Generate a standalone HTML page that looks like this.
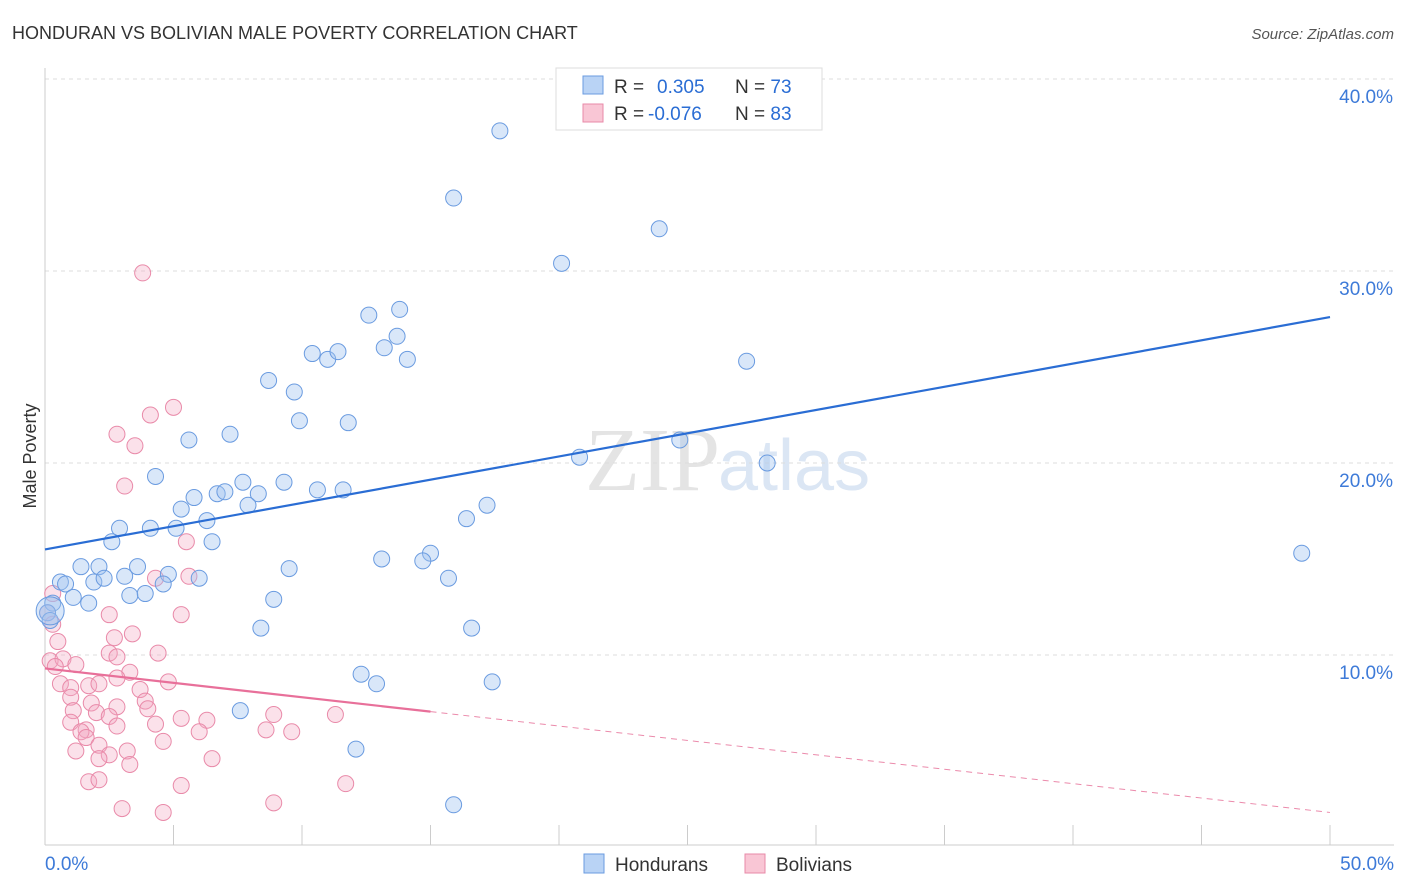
<!DOCTYPE html>
<html><head><meta charset="utf-8"><style>
body{margin:0;background:#fff;font-family:"Liberation Sans",sans-serif;}
svg{display:block}
</style></head><body>
<svg id="c" width="1406" height="892">
<text x="12" y="39" font-size="18" fill="#333">HONDURAN VS BOLIVIAN MALE POVERTY CORRELATION CHART</text>
<text x="1394" y="39" font-size="15" fill="#555" font-style="italic" text-anchor="end">Source: ZipAtlas.com</text>
<text x="36" y="456" font-size="18" fill="#333" transform="rotate(-90 36 456)" text-anchor="middle">Male Poverty</text>
<text x="720" y="490" font-size="90" fill="#e4e4e4" text-anchor="end" font-family="Liberation Serif">ZIP</text>
<text x="718" y="490" font-size="72" fill="#dbe6f4">atlas</text>
<g id="grid"></g><g id="pts"></g><g id="lines"></g>
<g>
<rect x="556" y="68" width="266" height="62" fill="#fff" stroke="#ddd"/>
<rect x="583" y="76" width="20" height="18" fill="#b9d3f5" stroke="#6a9be0"/>
<rect x="583" y="104" width="20" height="18" fill="#f9c6d5" stroke="#e88aa8"/>
<text x="614" y="93" font-size="19" fill="#333">R = <tspan fill="#2a6dd4" x="657">0.305</tspan><tspan x="735" fill="#333">N = </tspan><tspan fill="#2a6dd4">73</tspan></text>
<text x="614" y="120" font-size="19" fill="#333">R = <tspan fill="#2a6dd4" x="648">-0.076</tspan><tspan x="735" fill="#333">N = </tspan><tspan fill="#2a6dd4">83</tspan></text>
</g>
<g>
<rect x="584" y="854" width="20" height="19" fill="#b9d3f5" stroke="#6a9be0"/>
<text x="615" y="871" font-size="19" fill="#333">Hondurans</text>
<rect x="745" y="854" width="20" height="19" fill="#f9c6d5" stroke="#e88aa8"/>
<text x="776" y="871" font-size="19" fill="#333">Bolivians</text>
</g>
</svg>
<script>
const yTicks=[10,20,30,40];
const xTickVals=[0,5,10,15,20,25,30,35,40,45,50];
const blueX=[17.7,15.9,23.9,20.1,12.6,13.8,13.7,13.2,10.4,11.0,11.4,14.1,27.3,8.7,9.7,9.9,11.8,5.6,7.2,24.7,20.8,28.1,4.3,7.7,9.3,6.7,7.0,8.3,5.8,7.9,10.6,11.6,5.3,6.3,2.9,4.1,5.1,16.4,17.2,2.6,6.5,48.9,13.1,15.0,14.7,1.4,2.1,3.6,9.5,3.1,4.8,6.0,15.7,0.6,0.8,1.9,2.3,4.6,1.1,3.3,3.9,8.9,1.7,0.3,0.1,0.2,8.4,16.6,12.3,12.9,17.4,7.6,12.1,15.9];
const blueY=[37.3,33.8,32.2,30.4,27.7,28.0,26.6,26.0,25.7,25.4,25.8,25.4,25.3,24.3,23.7,22.2,22.1,21.2,21.5,21.2,20.3,20.0,19.3,19.0,19.0,18.4,18.5,18.4,18.2,17.8,18.6,18.6,17.6,17.0,16.6,16.6,16.6,17.1,17.8,15.9,15.9,15.3,15.0,15.3,14.9,14.6,14.6,14.6,14.5,14.1,14.2,14.0,14.0,13.8,13.7,13.8,14.0,13.7,13.0,13.1,13.2,12.9,12.7,12.7,12.2,11.8,11.4,11.4,9.0,8.5,8.6,7.1,5.1,2.2];
const pinkX=[3.8,5.0,4.1,2.8,3.5,3.1,5.5,4.3,5.6,0.3,0.1,2.5,5.3,0.3,3.4,2.7,0.5,2.5,2.8,4.4,0.2,0.7,1.2,0.4,3.3,2.8,4.8,0.6,1.7,2.1,3.7,1.0,1.0,1.8,3.9,4.0,2.8,1.1,2.0,2.5,5.3,6.3,8.9,11.3,1.0,4.3,2.8,1.6,1.4,1.6,6.0,8.6,9.6,2.1,4.6,1.2,2.5,3.2,2.1,6.5,3.3,1.7,2.1,5.3,11.7,3.0,4.6,8.9];
const pinkY=[29.9,22.9,22.5,21.5,20.9,18.8,15.9,14.0,14.1,13.2,12.2,12.1,12.1,11.6,11.1,10.9,10.7,10.1,9.9,10.1,9.7,9.8,9.5,9.4,9.1,8.8,8.6,8.5,8.4,8.5,8.2,8.3,7.8,7.5,7.6,7.2,7.3,7.1,7.0,6.8,6.7,6.6,6.9,6.9,6.5,6.4,6.3,6.1,6.0,5.7,6.0,6.1,6.0,5.3,5.5,5.0,4.8,5.0,4.6,4.6,4.3,3.4,3.5,3.2,3.3,2.0,1.8,2.3];
const trendBlue=[15.5,27.6];
const trendPink=[9.3,1.8];
const X=v=>45+v*25.7, Y=v=>847-v*19.2;
const NS='http://www.w3.org/2000/svg';
function mk(t,a,p){const e=document.createElementNS(NS,t);for(const k in a)e.setAttribute(k,a[k]);p.appendChild(e);return e;}
const g=document.getElementById('grid');
yTicks.forEach(v=>{
 const l=mk('line',{x1:45,x2:1394,y1:Y(v),y2:Y(v),stroke:'#ddd','stroke-dasharray':'4,4'},g);
 
 
 const t=mk('text',{x:1393,y:Y(v)+24,'font-size':19,fill:'#3d7ad8','text-anchor':'end'},g);
 t.textContent=v.toFixed(1)+'%';
 
 
});
mk('line',{x1:45,x2:45,y1:68,y2:845,stroke:'#ccc'},g);
mk('line',{x1:45,x2:1394,y1:845,y2:845,stroke:'#ccc'},g);
xTickVals.forEach(v=>{
 const l=mk('line',{x1:X(v),x2:X(v),y1:825,y2:845,stroke:'#ccc'},g);
 
 
});
[[0,'0.0%',45,'start'],[50,'50.0%',1394,'end']].forEach(a=>{
 const t=mk('text',{x:a[2],y:870,'font-size':19,fill:'#3d7ad8','text-anchor':a[3]},g);
 t.textContent=a[1];
 
 
});
const p=document.getElementById('pts');
pinkX.forEach((x,i)=>{
 const c=mk('circle',{cx:X(x),cy:Y(pinkY[i]),r:8,fill:'rgba(244,170,195,0.35)',stroke:'#e98aa9','stroke-width':1},p);
 
 
});
blueX.forEach((x,i)=>{
 const c=mk('circle',{cx:X(x),cy:Y(blueY[i]),r:8,fill:'rgba(160,195,240,0.4)',stroke:'#6a9be0','stroke-width':1},p);
 
 
});
const big=mk('circle',{cx:X(0.2),cy:Y(12.3),r:14,fill:'rgba(160,195,240,0.4)',stroke:'#6a9be0'},p);


const L=document.getElementById('lines');
const bl=mk('line',{x1:X(0),y1:Y(trendBlue[0]),x2:X(50),y2:Y(trendBlue[1]),stroke:'#2a6dd4','stroke-width':2.2},L);


const pv=x=>trendPink[0]+(trendPink[1]-trendPink[0])*x/50;
const pl=mk('line',{x1:X(0),y1:Y(pv(0)),x2:X(15),y2:Y(pv(15)),stroke:'#e8709a','stroke-width':2.2},L);


const pd=mk('line',{x1:X(15),y1:Y(pv(15)),x2:X(50),y2:Y(pv(50)),stroke:'#eb8aab','stroke-width':1,'stroke-dasharray':'6,5'},L);


</script>
</body></html>
